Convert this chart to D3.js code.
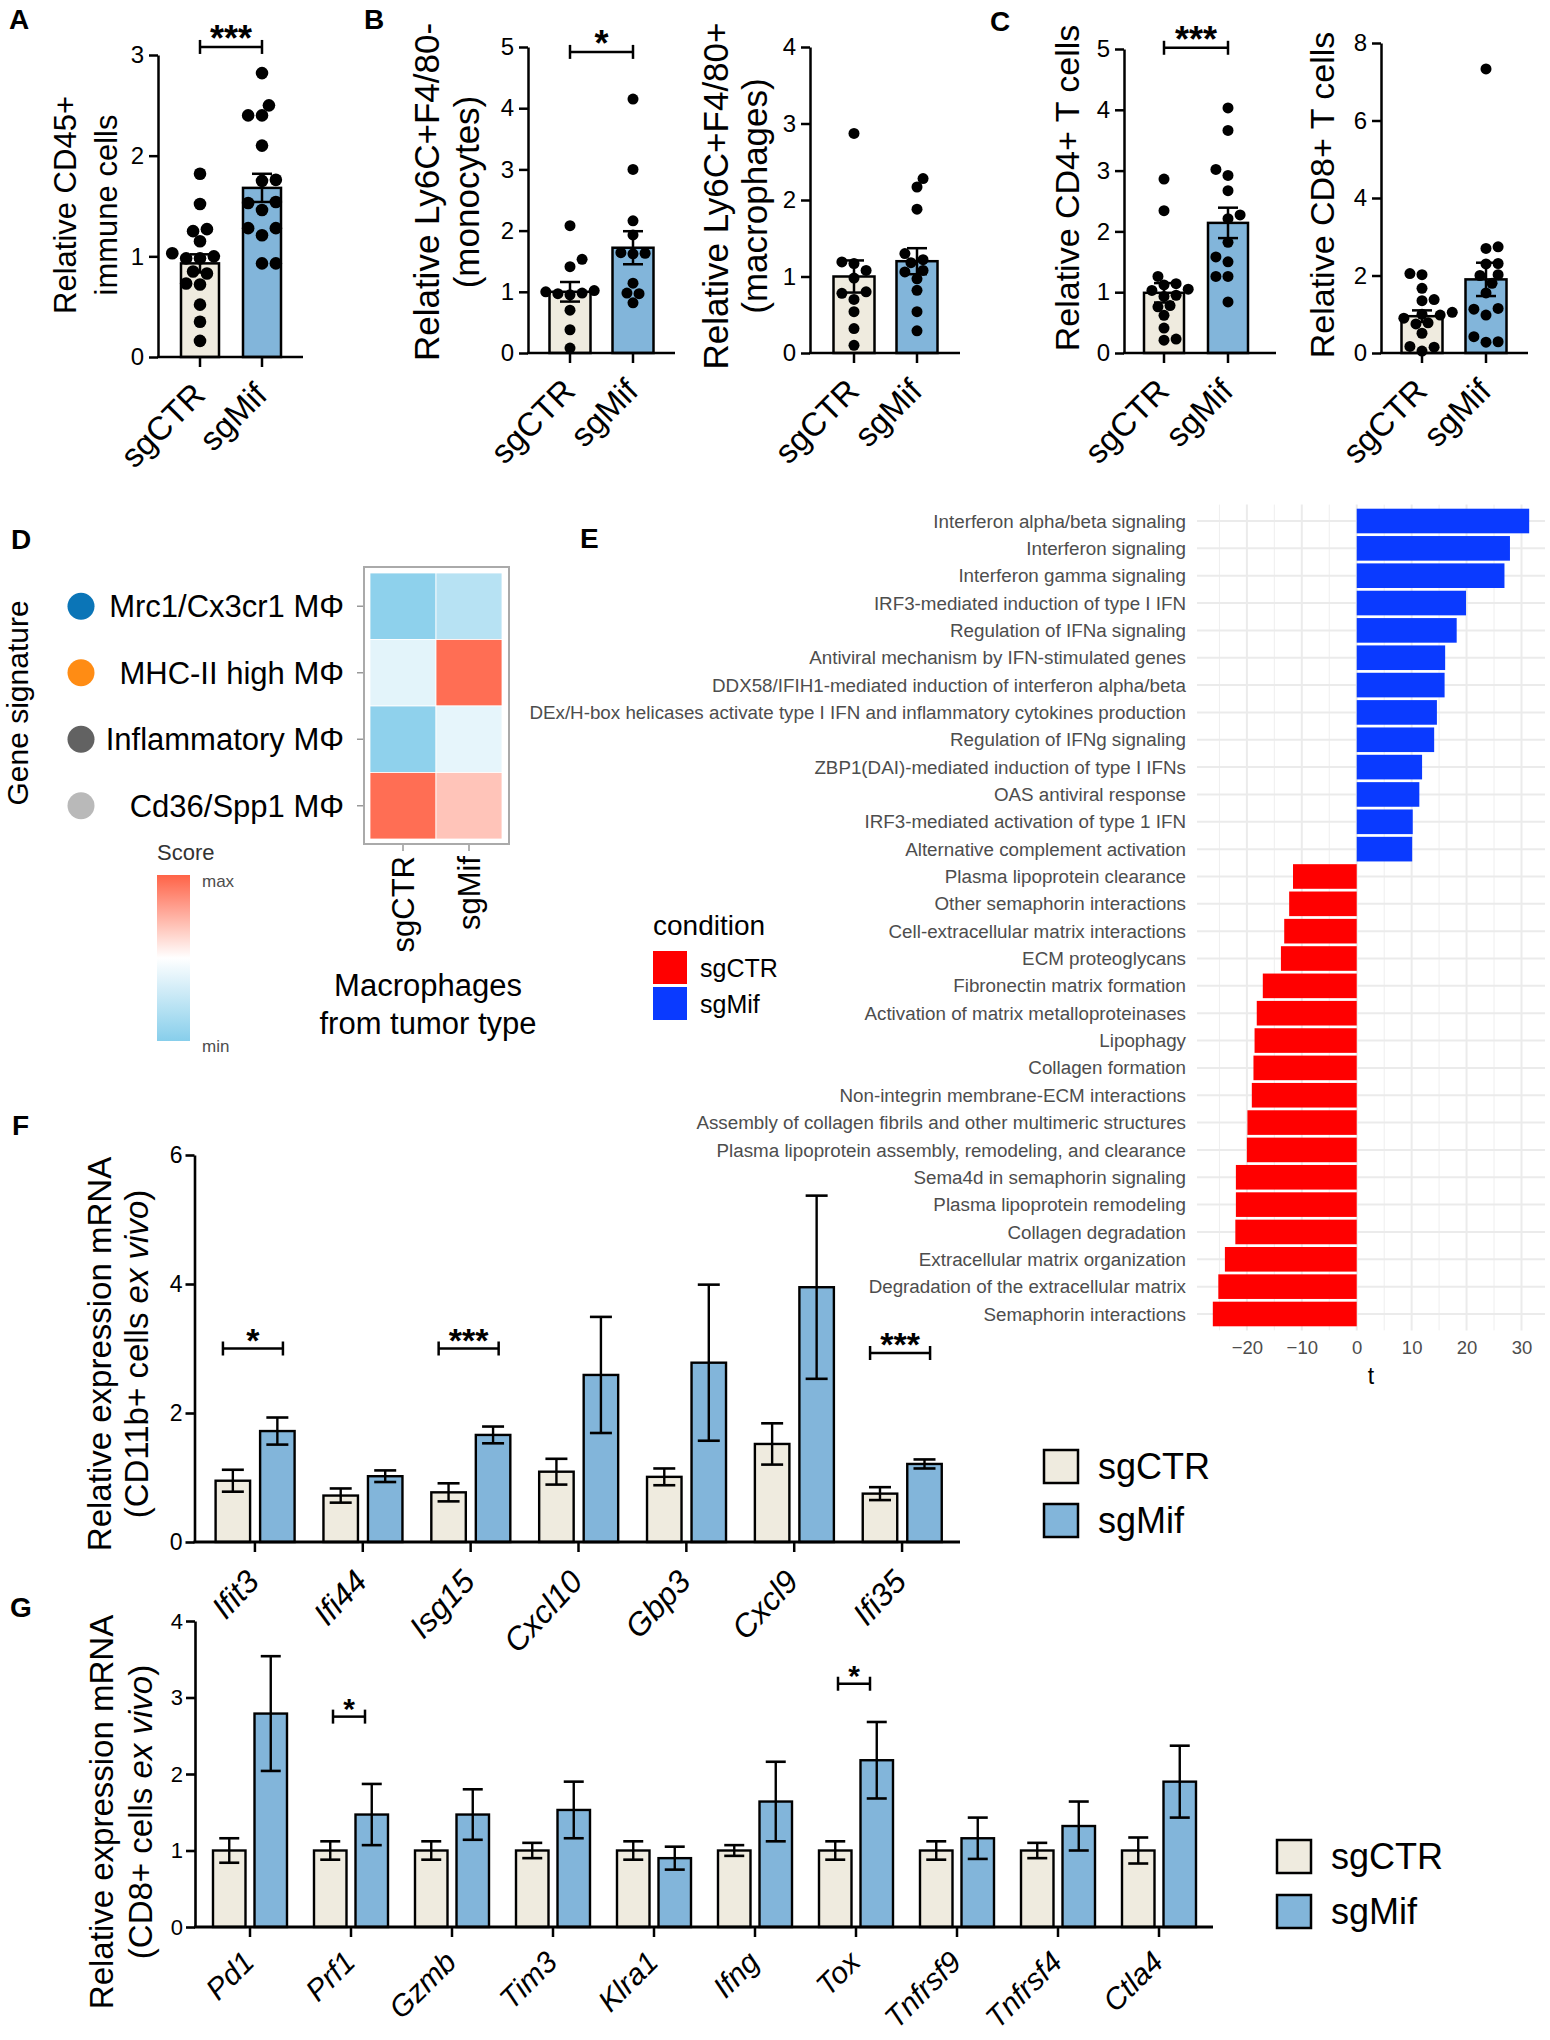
<!DOCTYPE html>
<html><head><meta charset="utf-8">
<script src="https://cdn.jsdelivr.net/npm/d3@7"></script>
<style>
body{margin:0;background:#fff}
svg text{font-family:'Liberation Sans',Arial,Helvetica,sans-serif}
</style>
</head><body>
<svg id="fig" width="1550" height="2040" xmlns="http://www.w3.org/2000/svg"></svg>
<script>
// ===================== DATA =====================
const groups = ["sgCTR", "sgMif"];

// Panel A: relative CD45+ immune cells
const cd45_sgCTR = [1.82, 1.52, 1.27, 1.25, 1.15, 1.03, 1.0, 0.98, 0.98, 0.85, 0.83, 0.73, 0.72, 0.52, 0.35, 0.16];
const cd45_sgMif = [2.82, 2.50, 2.40, 2.40, 2.10, 1.76, 1.75, 1.54, 1.53, 1.46, 1.28, 1.28, 1.21, 0.93, 0.93];
const cd45_mean = [0.93, 1.68];
const cd45_sem = [0.09, 0.14];

// Panel B: monocytes / macrophages
const mono_sgCTR = [2.08, 1.53, 1.41, 1.02, 1.0, 0.98, 0.97, 0.95, 0.70, 0.38, 0.08];
const mono_sgMif = [4.15, 3.0, 2.16, 1.93, 1.64, 1.63, 1.62, 1.14, 0.98, 0.97, 0.82];
const mono_mean = [1.0, 1.72];
const mono_sem = [0.16, 0.27];
const macro_sgCTR = [2.87, 1.19, 1.17, 1.08, 0.98, 0.80, 0.78, 0.70, 0.54, 0.32, 0.10];
const macro_sgMif = [2.28, 2.17, 1.88, 1.30, 1.22, 1.18, 1.08, 1.06, 0.97, 0.82, 0.54, 0.29];
const macro_mean = [1.0, 1.2];
const macro_sem = [0.21, 0.17];

// Panel C: CD4+ / CD8+ T cells
const cd4_sgCTR = [2.86, 2.34, 1.26, 1.14, 1.12, 1.05, 1.03, 0.95, 0.93, 0.78, 0.76, 0.62, 0.41, 0.23, 0.21];
const cd4_sgMif = [4.03, 3.66, 3.02, 2.92, 2.67, 2.27, 2.21, 1.82, 1.58, 1.50, 1.26, 1.26, 0.84];
const cd4_mean = [0.99, 2.14];
const cd4_sem = [0.16, 0.25];
const cd8_sgCTR = [2.05, 2.02, 1.67, 1.38, 1.35, 1.05, 1.0, 0.98, 0.9, 0.78, 0.75, 0.51, 0.17, 0.15, 0.05];
const cd8_sgMif = [7.33, 2.74, 2.70, 2.31, 2.30, 2.02, 2.0, 1.8, 1.55, 1.15, 1.13, 0.98, 0.42, 0.29, 0.28];
const cd8_mean = [0.95, 1.9];
const cd8_sem = [0.15, 0.43];

// Panel D: gene signature heatmap (scaled score, -1 = min, 1 = max)
const signatures = ["Mrc1/Cx3cr1 MΦ", "MHC-II high MΦ", "Inflammatory MΦ", "Cd36/Spp1 MΦ"];
const signatureColors = ["#0B75B7", "#FF8C14", "#626262", "#B9B9B9"];
const heat_sgCTR = [-0.94, -0.23, -0.93, 0.93];
const heat_sgMif = [-0.6, 0.93, -0.21, 0.38];

// Panel E: pathway t statistics
const pathways = [
  "Interferon alpha/beta signaling", "Interferon signaling", "Interferon gamma signaling",
  "IRF3-mediated induction of type I IFN", "Regulation of IFNa signaling",
  "Antiviral mechanism by IFN-stimulated genes", "DDX58/IFIH1-mediated induction of interferon alpha/beta",
  "DEx/H-box helicases activate type I IFN and inflammatory cytokines production",
  "Regulation of IFNg signaling", "ZBP1(DAI)-mediated induction of type I IFNs", "OAS antiviral response",
  "IRF3-mediated activation of type 1 IFN", "Alternative complement activation",
  "Plasma lipoprotein clearance", "Other semaphorin interactions", "Cell-extracellular matrix interactions",
  "ECM proteoglycans", "Fibronectin matrix formation", "Activation of matrix metalloproteinases",
  "Lipophagy", "Collagen formation", "Non-integrin membrane-ECM interactions",
  "Assembly of collagen fibrils and other multimeric structures",
  "Plasma lipoprotein assembly, remodeling, and clearance", "Sema4d in semaphorin signaling",
  "Plasma lipoprotein remodeling", "Collagen degradation", "Extracellular matrix organization",
  "Degradation of the extracellular matrix", "Semaphorin interactions"
];
const tValues = [31.4, 27.9, 26.9, 19.9, 18.2, 16.1, 16.0, 14.6, 14.1, 11.9, 11.4, 10.2, 10.1,
  -11.6, -12.3, -13.2, -13.8, -17.1, -18.2, -18.6, -18.8, -19.1, -19.9, -20.0, -22.0, -22.0, -22.1, -24.0, -25.2, -26.2];
const tTicks = [-20, -10, 0, 10, 20, 30];

// Panel F: CD11b+ cells
const genesF = ["Ifit3", "Ifi44", "Isg15", "Cxcl10", "Gbp3", "Cxcl9", "Ifi35"];
const F_sgCTR = [0.95, 0.72, 0.77, 1.09, 1.01, 1.52, 0.75];
const F_sgCTR_sem = [0.17, 0.11, 0.14, 0.20, 0.13, 0.32, 0.10];
const F_sgMif = [1.72, 1.02, 1.66, 2.59, 2.78, 3.95, 1.21];
const F_sgMif_sem = [0.21, 0.09, 0.13, 0.90, 1.21, 1.42, 0.07];
const F_ticks = [0, 2, 4, 6];
const F_sigGenes = ["Ifit3", "Isg15", "Ifi35"];
const F_sigStars = ["*", "***", "***"];
const F_sigLevel = [3.0, 3.0, 2.93];

// Panel G: CD8+ cells
const genesG = ["Pd1", "Prf1", "Gzmb", "Tim3", "Klra1", "Ifng", "Tox", "Tnfrsf9", "Tnfrsf4", "Ctla4"];
const G_sgCTR = [1, 1, 1, 1, 1, 1, 1, 1, 1, 1];
const G_sgCTR_sem = [0.16, 0.12, 0.12, 0.10, 0.12, 0.07, 0.12, 0.12, 0.10, 0.17];
const G_sgMif = [2.79, 1.47, 1.47, 1.53, 0.90, 1.64, 2.18, 1.16, 1.32, 1.90];
const G_sgMif_sem = [0.75, 0.40, 0.33, 0.37, 0.15, 0.52, 0.50, 0.27, 0.32, 0.47];
const G_ticks = [0, 1, 2, 3, 4];
const G_sigGenes = ["Prf1", "Tox"];
const G_sigStars = ["*", "*"];
const G_sigLevel = [2.75, 3.18];

// ===================== DRAWING =====================
const FONT = "'Liberation Sans', Arial, Helvetica, sans-serif";
const BEIGE = "#EFEBDF", BLUE = "#82B5DA";
const svg = d3.select("#fig");
svg.append("rect").attr("width", 1550).attr("height", 2040).attr("fill", "#fff");

function letter(t, x, y) {
  svg.append("text").attr("x", x).attr("y", y).attr("font-size", 28).attr("font-weight", "bold").text(t);
}
letter("A", 9, 29); letter("B", 364, 29); letter("C", 990, 31);
letter("D", 11, 549); letter("E", 580, 548); letter("F", 12, 1135); letter("G", 10, 1617);

function styleAxis(g, fs, sw) {
  g.attr("font-family", FONT).attr("font-size", fs);
  g.selectAll("path,line").attr("stroke", "#000").attr("stroke-width", sw);
  g.selectAll("text").attr("fill", "#000");
}

function swarm(vals, y, r) {
  const pts = vals.map(v => ({v, y: y(v)})).sort((a, b) => b.y - a.y);
  const placed = [];
  const step = r * 1.1;
  pts.forEach((p, idx) => {
    let chosen = null;
    for (let k = 0; k <= 6 && chosen === null; k++) {
      const opts = k === 0 ? [0] : (idx % 2 ? [k * step, -k * step] : [-k * step, k * step]);
      for (const dx of opts) {
        if (placed.every(q => Math.hypot(q.dx - dx, q.y - p.y) >= 1.85 * r)) { chosen = dx; break; }
      }
    }
    p.dx = chosen === null ? 0 : chosen;
    placed.push(p);
  });
  return placed;
}

function bracket(g, x1, x2, yy, stars, fs, starGap) {
  g.append("line").attr("x1", x1).attr("x2", x2).attr("y1", yy).attr("y2", yy).attr("stroke", "#000").attr("stroke-width", 2.5);
  [x1, x2].forEach(x => g.append("line").attr("x1", x).attr("x2", x).attr("y1", yy - 7).attr("y2", yy + 7).attr("stroke", "#000").attr("stroke-width", 2.5));
  g.append("text").attr("x", (x1 + x2) / 2).attr("y", yy - starGap + 0.57 * fs).attr("text-anchor", "middle")
    .attr("font-size", fs).attr("font-weight", "bold").text(stars);
}

function dotPanel(o) {
  const g = svg.append("g");
  const y = d3.scaleLinear().domain([0, o.yMax]).range([o.y0, o.y1]);
  const x = d3.scalePoint().domain(groups).range(o.centers);
  const vals = [o.ctr, o.mif];
  groups.forEach((k, i) => {
    g.append("rect").attr("x", x(k) - o.barW / 2).attr("y", y(o.mean[i])).attr("width", o.barW)
      .attr("height", y(0) - y(o.mean[i])).attr("fill", i ? BLUE : BEIGE).attr("stroke", "#000").attr("stroke-width", 2.5);
  });
  groups.forEach((k, i) => {
    const lo = y(o.mean[i] - o.sem[i]), hi = y(o.mean[i] + o.sem[i]);
    g.append("line").attr("x1", x(k)).attr("x2", x(k)).attr("y1", lo).attr("y2", hi).attr("stroke", "#000").attr("stroke-width", 2.5);
    [lo, hi].forEach(v => g.append("line").attr("x1", x(k) - 10).attr("x2", x(k) + 10).attr("y1", v).attr("y2", v).attr("stroke", "#000").attr("stroke-width", 2.5));
  });
  vals.forEach((vv, i) => {
    const pts = swarm(vv, y, o.r);
    g.selectAll(null).data(pts).join("circle").attr("cx", d => x(groups[i]) + d.dx).attr("cy", d => d.y).attr("r", o.r).attr("fill", "#000");
  });
  const ya = g.append("g").attr("transform", `translate(${o.ax},0)`)
    .call(d3.axisLeft(y).tickValues(o.ticks).tickSize(9).tickSizeOuter(0).tickPadding(5).tickFormat(d3.format("d")));
  styleAxis(ya, 24, 2.5);
  g.append("line").attr("x1", o.ax - 1).attr("x2", o.xEnd).attr("y1", y(0)).attr("y2", y(0)).attr("stroke", "#000").attr("stroke-width", 2.5);
  groups.forEach(k => {
    g.append("line").attr("x1", x(k)).attr("x2", x(k)).attr("y1", y(0)).attr("y2", y(0) + 10).attr("stroke", "#000").attr("stroke-width", 2.5);
    g.append("text").attr("transform", `translate(${x(k) + 7},${y(0) + 40}) rotate(-45)`).attr("text-anchor", "end")
      .attr("font-size", o.xfs).text(k);
  });
  o.title.forEach((line, i) => {
    g.append("text").attr("transform", `translate(${o.titleX[i]},${o.titleY}) rotate(-90)`).attr("text-anchor", "middle")
      .attr("dy", "0.35em").attr("font-size", o.tfs).text(line);
  });
  if (o.sig) bracket(g, x(groups[0]), x(groups[1]), y(o.sig.level), o.sig.text, 36, 16);
}

dotPanel({ax: 158, xEnd: 303, y0: 357, y1: 55, yMax: 3, ticks: [0, 1, 2, 3], centers: [200, 262], barW: 38, r: 6.3,
  ctr: cd45_sgCTR, mif: cd45_sgMif, mean: cd45_mean, sem: cd45_sem, sig: {level: 3.08, text: "***"},
  title: ["Relative CD45+", "immune cells"], titleX: [65, 106], titleY: 205, tfs: 31, xfs: 33});
dotPanel({ax: 528, xEnd: 675, y0: 353, y1: 47, yMax: 5, ticks: [0, 1, 2, 3, 4, 5], centers: [570, 633], barW: 41, r: 5.5,
  ctr: mono_sgCTR, mif: mono_sgMif, mean: mono_mean, sem: mono_sem, sig: {level: 4.92, text: "*"},
  title: ["Relative Ly6C+F4/80-", "(monocytes)"], titleX: [427, 467], titleY: 192, tfs: 35, xfs: 33});
dotPanel({ax: 810, xEnd: 960, y0: 353, y1: 47, yMax: 4, ticks: [0, 1, 2, 3, 4], centers: [854, 917], barW: 41, r: 5.5,
  ctr: macro_sgCTR, mif: macro_sgMif, mean: macro_mean, sem: macro_sem, sig: null,
  title: ["Relative Ly6C+F4/80+", "(macrophages)"], titleX: [716, 755], titleY: 196, tfs: 35, xfs: 33});
dotPanel({ax: 1124, xEnd: 1276, y0: 353, y1: 49, yMax: 5, ticks: [0, 1, 2, 3, 4, 5], centers: [1164, 1228], barW: 40, r: 5.5,
  ctr: cd4_sgCTR, mif: cd4_sgMif, mean: cd4_mean, sem: cd4_sem, sig: {level: 5.02, text: "***"},
  title: ["Relative CD4+ T cells"], titleX: [1067], titleY: 188, tfs: 34, xfs: 33});
dotPanel({ax: 1381, xEnd: 1528, y0: 353, y1: 43, yMax: 8, ticks: [0, 2, 4, 6, 8], centers: [1422, 1486], barW: 41, r: 5.5,
  ctr: cd8_sgCTR, mif: cd8_sgMif, mean: cd8_mean, sem: cd8_sem, sig: null,
  title: ["Relative CD8+ T cells"], titleX: [1322], titleY: 195, tfs: 34, xfs: 33});

// ---------- Panel D ----------
(function () {
  const g = svg.append("g");
  const color = d3.scaleLinear().domain([-1, 0, 1]).range(["#87CEEB", "#FFFFFF", "#FF6347"]);
  const yb = d3.scaleBand().domain(signatures).range([573, 839]);
  const xb = d3.scaleBand().domain(groups).range([370, 502]);
  g.append("rect").attr("x", 364).attr("y", 567).attr("width", 145).attr("height", 277).attr("fill", "#fff")
    .attr("stroke", "#AAAAAA").attr("stroke-width", 2);
  const cells = [];
  signatures.forEach((s, i) => { cells.push({s, grp: "sgCTR", v: heat_sgCTR[i]}); cells.push({s, grp: "sgMif", v: heat_sgMif[i]}); });
  g.selectAll(null).data(cells).join("rect").attr("x", d => xb(d.grp)).attr("y", d => yb(d.s))
    .attr("width", xb.bandwidth()).attr("height", yb.bandwidth()).attr("fill", d => color(d.v))
    .attr("stroke", "#fff").attr("stroke-width", 0.8);
  signatures.forEach((s, i) => {
    const cy = yb(s) + yb.bandwidth() / 2;
    g.append("line").attr("x1", 357).attr("x2", 363).attr("y1", cy).attr("y2", cy).attr("stroke", "#999").attr("stroke-width", 1.5);
    g.append("text").attr("x", 344).attr("y", cy).attr("dy", "0.35em").attr("text-anchor", "end").attr("font-size", 31).text(s);
    g.append("circle").attr("cx", 81).attr("cy", cy).attr("r", 13.5).attr("fill", signatureColors[i]);
  });
  groups.forEach(k => {
    const cx = xb(k) + xb.bandwidth() / 2;
    g.append("line").attr("x1", cx).attr("x2", cx).attr("y1", 845).attr("y2", 851).attr("stroke", "#999").attr("stroke-width", 1.5);
    g.append("text").attr("transform", `translate(${cx},856) rotate(-90)`).attr("dy", "0.35em").attr("text-anchor", "end")
      .attr("font-size", 31).text(k);
  });
  g.append("text").attr("transform", "translate(17,703) rotate(-90)").attr("dy", "0.35em").attr("text-anchor", "middle")
    .attr("font-size", 30).text("Gene signature");
  g.append("text").attr("x", 428).attr("y", 996).attr("text-anchor", "middle").attr("font-size", 31).text("Macrophages");
  g.append("text").attr("x", 428).attr("y", 1034).attr("text-anchor", "middle").attr("font-size", 31).text("from tumor type");
  // colour legend
  const defs = svg.append("defs");
  const grad = defs.append("linearGradient").attr("id", "scoreGrad").attr("x1", 0).attr("x2", 0).attr("y1", 1).attr("y2", 0);
  d3.range(0, 1.0001, 0.1).forEach(t => grad.append("stop").attr("offset", t).attr("stop-color", color(t * 2 - 1)));
  g.append("text").attr("x", 157).attr("y", 860).attr("font-size", 22).attr("fill", "#333").text("Score");
  g.append("rect").attr("x", 157).attr("y", 875).attr("width", 33).attr("height", 166).attr("fill", "url(#scoreGrad)");
  g.append("text").attr("x", 202).attr("y", 887).attr("font-size", 17).attr("fill", "#4D4D4D").text("max");
  g.append("text").attr("x", 202).attr("y", 1052).attr("font-size", 17).attr("fill", "#4D4D4D").text("min");
})();

// ---------- Panel E ----------
(function () {
  const g = svg.append("g");
  const left = 1197, right = 1545, top = 504.6, bottom = 1330.4;
  const ext = d3.extent(tValues);
  const pad = (ext[1] - ext[0]) * 0.05;
  const x = d3.scaleLinear().domain([ext[0] - pad, ext[1] + pad]).range([left, right]);
  const y = d3.scaleBand().domain(pathways).range([top, bottom]).paddingInner(0.1).paddingOuter(0.15);
  const minor = [-25, -15, -5, 5, 15, 25];
  g.selectAll(null).data(minor).join("line").attr("x1", d => x(d)).attr("x2", d => x(d)).attr("y1", top).attr("y2", bottom)
    .attr("stroke", "#EEEEEE").attr("stroke-width", 1);
  g.selectAll(null).data(tTicks).join("line").attr("x1", d => x(d)).attr("x2", d => x(d)).attr("y1", top).attr("y2", bottom)
    .attr("stroke", "#EBEBEB").attr("stroke-width", 2);
  g.selectAll(null).data(pathways).join("line").attr("x1", left).attr("x2", right)
    .attr("y1", d => y(d) + y.bandwidth() / 2).attr("y2", d => y(d) + y.bandwidth() / 2).attr("stroke", "#EBEBEB").attr("stroke-width", 2);
  g.selectAll(null).data(pathways).join("rect")
    .attr("x", (d, i) => x(Math.min(0, tValues[i]))).attr("y", d => y(d))
    .attr("width", (d, i) => Math.abs(x(tValues[i]) - x(0))).attr("height", y.bandwidth())
    .attr("fill", (d, i) => tValues[i] > 0 ? "#0A3AFF" : "#FF0000");
  g.selectAll(null).data(pathways).join("text").attr("x", 1186).attr("y", d => y(d) + y.bandwidth() / 2).attr("dy", "0.35em")
    .attr("text-anchor", "end").attr("font-size", 18.8).attr("fill", "#4D4D4D").text(d => d);
  const xa = g.append("g").attr("transform", `translate(0,${bottom})`)
    .call(d3.axisBottom(x).tickValues(tTicks).tickSize(0).tickPadding(10));
  xa.attr("font-family", FONT).attr("font-size", 18.5);
  xa.select(".domain").remove();
  xa.selectAll("text").attr("fill", "#4D4D4D");
  g.append("text").attr("x", (left + right) / 2).attr("y", 1376).attr("dy", "0.35em").attr("text-anchor", "middle").attr("font-size", 23).text("t");
  // legend
  g.append("text").attr("x", 653).attr("y", 935).attr("font-size", 28).text("condition");
  const legCond = ["sgCTR", "sgMif"], legCol = ["#FF0000", "#0A3AFF"];
  legCond.forEach((c, i) => {
    g.append("rect").attr("x", 653).attr("y", 951 + i * 36).attr("width", 34).attr("height", 33).attr("fill", legCol[i]);
    g.append("text").attr("x", 700).attr("y", 968 + i * 36).attr("dy", "0.35em").attr("font-size", 25).text(c);
  });
})();

// ---------- Panels F & G ----------
function groupedBars(o) {
  const g = svg.append("g");
  const y = d3.scaleLinear().domain([0, o.yMax]).range([o.y0, o.y1]);
  const xg = d3.scaleBand().domain(o.genes).range(o.bandRange).padding(0);
  const xi = d3.scaleBand().domain(groups).range(o.innerRange).paddingInner(o.innerPad);
  const rows = [];
  o.genes.forEach((gn, i) => {
    rows.push({gn, grp: "sgCTR", v: o.ctr[i], e: o.ctrSem[i]});
    rows.push({gn, grp: "sgMif", v: o.mif[i], e: o.mifSem[i]});
  });
  g.selectAll(null).data(rows).join("rect").attr("x", d => xg(d.gn) + xi(d.grp)).attr("y", d => y(d.v))
    .attr("width", xi.bandwidth()).attr("height", d => y(0) - y(d.v))
    .attr("fill", d => d.grp === "sgCTR" ? BEIGE : BLUE).attr("stroke", "#000").attr("stroke-width", 2.4);
  rows.forEach(d => {
    const cx = xg(d.gn) + xi(d.grp) + xi.bandwidth() / 2;
    const lo = y(d.v - d.e), hi = y(d.v + d.e);
    g.append("line").attr("x1", cx).attr("x2", cx).attr("y1", lo).attr("y2", hi).attr("stroke", "#000").attr("stroke-width", 2.4);
    [lo, hi].forEach(v => g.append("line").attr("x1", cx - o.cap).attr("x2", cx + o.cap).attr("y1", v).attr("y2", v).attr("stroke", "#000").attr("stroke-width", 2.6));
  });
  const ya = g.append("g").attr("transform", `translate(${o.ax},0)`)
    .call(d3.axisLeft(y).tickValues(o.ticks).tickSize(9).tickSizeOuter(0).tickPadding(3).tickFormat(d3.format("d")));
  styleAxis(ya, o.tickFs, 2.6);
  g.append("line").attr("x1", o.ax - 1).attr("x2", o.xEnd).attr("y1", y(0)).attr("y2", y(0)).attr("stroke", "#000").attr("stroke-width", 3);
  o.genes.forEach(gn => {
    const cx = xg(gn) + xg.bandwidth() / 2;
    g.append("line").attr("x1", cx).attr("x2", cx).attr("y1", y(0)).attr("y2", y(0) + 10).attr("stroke", "#000").attr("stroke-width", 2.5);
    g.append("text").attr("transform", `translate(${cx + 6},${y(0) + o.labOff}) rotate(${o.labAngle})`).attr("text-anchor", "end")
      .attr("font-size", o.labFs).attr("font-style", "italic").text(gn);
  });
  g.append("text").attr("transform", `translate(${o.titleX[0]},${o.titleY}) rotate(-90)`).attr("text-anchor", "middle")
    .attr("dy", "0.35em").attr("font-size", 33).text("Relative expression mRNA");
  const t2 = g.append("text").attr("transform", `translate(${o.titleX[1]},${o.titleY}) rotate(-90)`).attr("text-anchor", "middle")
    .attr("dy", "0.35em").attr("font-size", 33);
  t2.append("tspan").text(o.cellLabel + " cells ");
  t2.append("tspan").attr("font-style", "italic").text("ex vivo");
  t2.append("tspan").text(")");
  o.sigGenes.forEach((gn, i) => {
    const cx = xg(gn) + xg.bandwidth() / 2;
    bracket(g, cx - o.brHalf + o.brShift, cx + o.brHalf + o.brShift, y(o.sigLevel[i]), o.sigStars[i], o.starFs, o.starGap);
  });
  groups.forEach((k, i) => {
    g.append("rect").attr("x", o.legX).attr("y", o.legY[i]).attr("width", 34).attr("height", 33)
      .attr("fill", i ? BLUE : BEIGE).attr("stroke", "#000").attr("stroke-width", 2.5);
    g.append("text").attr("x", o.legX + 54).attr("y", o.legY[i] + 16.5).attr("dy", "0.35em").attr("font-size", 36).text(k);
  });
}

groupedBars({genes: genesF, ctr: F_sgCTR, ctrSem: F_sgCTR_sem, mif: F_sgMif, mifSem: F_sgMif_sem,
  yMax: 6, y0: 1542, y1: 1155, ticks: F_ticks, ax: 194.5, xEnd: 960, bandRange: [201, 956],
  innerRange: [14.6, 93.6], innerPad: 0.225, cap: 11, tickFs: 23, labFs: 32, labAngle: -47, labOff: 41,
  titleX: [99, 136], titleY: 1354, cellLabel: "(CD11b+",
  sigGenes: F_sigGenes, sigStars: F_sigStars, sigLevel: F_sigLevel, brHalf: 30, brShift: -2, starFs: 34, starGap: 16,
  legX: 1044, legY: [1450, 1504]});
groupedBars({genes: genesG, ctr: G_sgCTR, ctrSem: G_sgCTR_sem, mif: G_sgMif, mifSem: G_sgMif_sem,
  yMax: 4, y0: 1927, y1: 1621, ticks: G_ticks, ax: 195, xEnd: 1213, bandRange: [199.5, 1209.5],
  innerRange: [13.5, 87.5], innerPad: 0.217, cap: 10, tickFs: 22, labFs: 30, labAngle: -45, labOff: 37,
  titleX: [101, 140], titleY: 1812, cellLabel: "(CD8+",
  sigGenes: G_sigGenes, sigStars: G_sigStars, sigLevel: G_sigLevel, brHalf: 16, brShift: -2, starFs: 30, starGap: 15,
  legX: 1277, legY: [1840, 1895]});
</script>
</body></html>
